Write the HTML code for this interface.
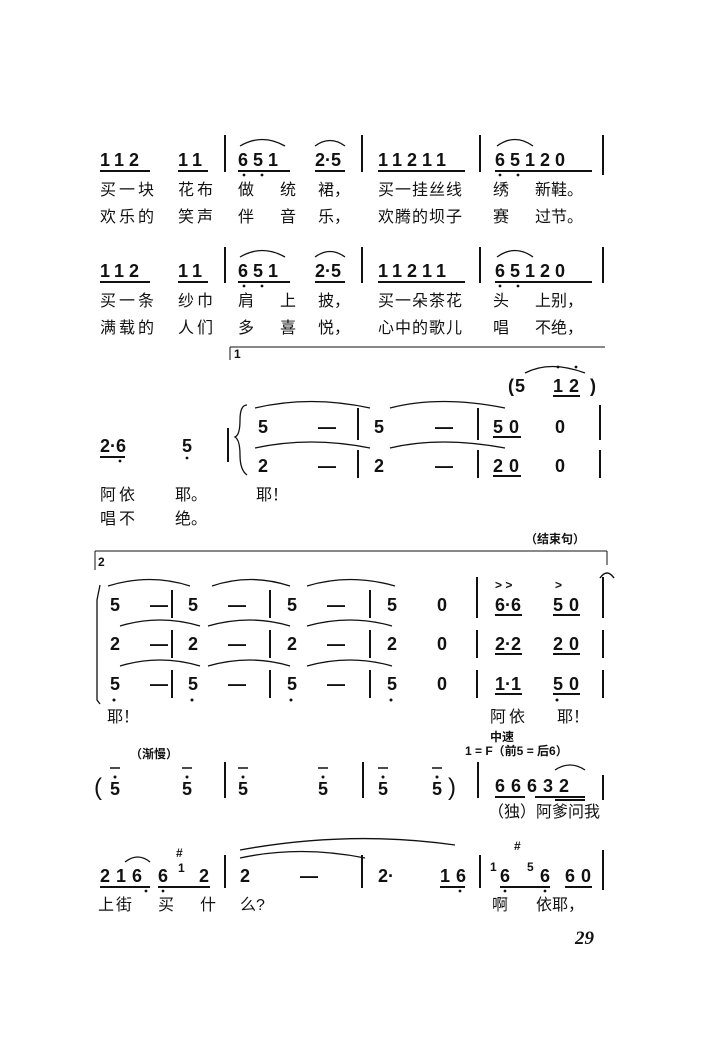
<!DOCTYPE html>
<html><head><meta charset="utf-8"><style>
html,body{margin:0;padding:0;background:#fff;}
svg{display:block}
.n{font-family:"Liberation Sans",sans-serif;font-weight:bold;font-size:18px;fill:#111}
.c{font-family:"Liberation Sans","Noto Sans CJK SC",sans-serif;font-size:16px;fill:#111}
.s{font-family:"Liberation Sans","Noto Sans CJK SC",sans-serif;font-size:12px;font-weight:bold;fill:#111}
line,path{stroke:#111;fill:none}
circle{fill:#111}
</style></head><body>
<svg width="701" height="1051" viewBox="0 0 701 1051">
<!-- Block 1 -->
<g class="n">
<text x="100" y="166" letter-spacing="5">112</text><text x="178" y="166" letter-spacing="5">11</text>
<text x="238" y="166" letter-spacing="5">651</text><text x="315" y="166">2·5</text>
<text x="378" y="166" letter-spacing="5">11211</text><text x="495" y="166" letter-spacing="5">65120</text>
<text x="100" y="277" letter-spacing="5">112</text><text x="178" y="277" letter-spacing="5">11</text>
<text x="238" y="277" letter-spacing="5">651</text><text x="315" y="277">2·5</text>
<text x="378" y="277" letter-spacing="5">11211</text><text x="495" y="277" letter-spacing="5">65120</text>
</g>
<circle cx="244" cy="175" r="1.4"/><circle cx="262" cy="175" r="1.4"/><circle cx="500" cy="175" r="1.4"/><circle cx="518" cy="175" r="1.4"/>
<circle cx="244" cy="286" r="1.4"/><circle cx="262" cy="286" r="1.4"/><circle cx="500" cy="286" r="1.4"/><circle cx="518" cy="286" r="1.4"/>
<g stroke-width="2">
<line x1="100" y1="171" x2="150" y2="171"/><line x1="178" y1="171" x2="208" y2="171"/>
<line x1="238" y1="171" x2="290" y2="171"/><line x1="315" y1="171" x2="345" y2="171"/>
<line x1="378" y1="171" x2="465" y2="171"/><line x1="495" y1="171" x2="592" y2="171"/>
<line x1="100" y1="282" x2="150" y2="282"/><line x1="178" y1="282" x2="208" y2="282"/>
<line x1="238" y1="282" x2="290" y2="282"/><line x1="315" y1="282" x2="345" y2="282"/>
<line x1="378" y1="282" x2="465" y2="282"/><line x1="495" y1="282" x2="592" y2="282"/>
<line x1="225" y1="135" x2="225" y2="172"/><line x1="362" y1="135" x2="362" y2="172"/>
<line x1="480" y1="135" x2="480" y2="172"/><line x1="603" y1="135" x2="603" y2="175"/>
<line x1="225" y1="247" x2="225" y2="283"/><line x1="362" y1="247" x2="362" y2="283"/>
<line x1="480" y1="247" x2="480" y2="283"/><line x1="603" y1="247" x2="603" y2="283"/>
</g>
<g stroke-width="1.3">
<path d="M240 146 Q262 133 285 146"/><path d="M315 146 Q330 135 345 146"/><path d="M497 146 Q515 133 533 146"/>
<path d="M240 257 Q262 244 285 257"/><path d="M315 257 Q330 246 345 257"/><path d="M497 257 Q515 244 533 257"/>
</g>
<g class="c">
<text x="100" y="195" letter-spacing="3">买一块</text><text x="178" y="195" letter-spacing="3">花布</text>
<text x="238" y="195">做</text><text x="280" y="195">统</text><text x="318" y="195">裙，</text>
<text x="378" y="195" letter-spacing="1">买一挂丝线</text><text x="493" y="195">绣</text><text x="535" y="195">新鞋。</text>
<text x="100" y="222" letter-spacing="3">欢乐的</text><text x="178" y="222" letter-spacing="3">笑声</text>
<text x="238" y="222">伴</text><text x="280" y="222">音</text><text x="318" y="222">乐，</text>
<text x="378" y="222" letter-spacing="1">欢腾的坝子</text><text x="493" y="222">赛</text><text x="535" y="222">过节。</text>
<text x="100" y="306" letter-spacing="3">买一条</text><text x="178" y="306" letter-spacing="3">纱巾</text>
<text x="238" y="306">肩</text><text x="280" y="306">上</text><text x="318" y="306">披，</text>
<text x="378" y="306" letter-spacing="1">买一朵茶花</text><text x="493" y="306">头</text><text x="535" y="306">上别，</text>
<text x="100" y="333" letter-spacing="3">满载的</text><text x="178" y="333" letter-spacing="3">人们</text>
<text x="238" y="333">多</text><text x="280" y="333">喜</text><text x="318" y="333">悦，</text>
<text x="378" y="333" letter-spacing="1">心中的歌儿</text><text x="493" y="333">唱</text><text x="535" y="333">不绝，</text>
</g>
<!-- Volta 1 -->
<line x1="230" y1="347" x2="605" y2="347" stroke-width="1"/><line x1="230" y1="347" x2="230" y2="360"/>
<text x="234" y="358" class="s">1</text>
<g class="n">
<text x="508" y="392">(</text><text x="515" y="392">5</text><text x="553" y="392" letter-spacing="6">12</text><text x="590" y="392">)</text>
<text x="258" y="433">5</text><text x="318" y="433">—</text><text x="374" y="433">5</text><text x="435" y="433">—</text>
<text x="493" y="433" letter-spacing="6">50</text><text x="555" y="433">0</text>
<text x="258" y="472">2</text><text x="318" y="472">—</text><text x="374" y="472">2</text><text x="435" y="472">—</text>
<text x="493" y="472" letter-spacing="6">20</text><text x="555" y="472">0</text>
<text x="100" y="452">2·6</text><text x="182" y="452">5</text>
</g>
<circle cx="558" cy="367" r="1.4"/><circle cx="576" cy="367" r="1.4"/><circle cx="120" cy="461" r="1.4"/><circle cx="187" cy="458" r="1.4"/>
<g stroke-width="2">
<line x1="493" y1="437" x2="521" y2="437"/><line x1="493" y1="476" x2="521" y2="476"/>
<line x1="100" y1="457" x2="125" y2="457"/><line x1="553" y1="396" x2="580" y2="396"/>
<line x1="358" y1="408" x2="358" y2="440"/><line x1="478" y1="408" x2="478" y2="440"/><line x1="600" y1="405" x2="600" y2="440"/>
<line x1="358" y1="450" x2="358" y2="478"/><line x1="478" y1="450" x2="478" y2="478"/><line x1="600" y1="450" x2="600" y2="478"/>
<line x1="228" y1="428" x2="228" y2="462"/>
</g>
<g stroke-width="1.3">
<path d="M525 373 Q550 360 585 373"/>
<path d="M255 408 Q310 395 370 408"/><path d="M390 408 Q440 395 505 408"/>
<path d="M255 448 Q310 436 370 448"/><path d="M390 448 Q440 436 505 448"/>
<path d="M247 405 Q240 405 240 420 Q240 435 235 437 Q240 440 240 455 Q240 470 247 475"/>
</g>
<g class="c">
<text x="100" y="500" letter-spacing="3">阿依</text><text x="175" y="500">耶。</text><text x="256" y="500">耶！</text>
<text x="100" y="524" letter-spacing="3">唱不</text><text x="175" y="524">绝。</text>
</g>
<!-- Volta 2 -->
<text x="525" y="543" class="s">（结束句）</text>
<line x1="95" y1="551" x2="607" y2="551"/><line x1="95" y1="551" x2="95" y2="570"/><line x1="607" y1="551" x2="607" y2="565"/>
<text x="98" y="566" class="s">2</text>
<path d="M600 578 Q607 568 614 578" stroke-width="1.5"/>
<g class="n">
<text x="110" y="611">5</text><text x="150" y="611">—</text><text x="188" y="611">5</text><text x="228" y="611">—</text>
<text x="287" y="611">5</text><text x="327" y="611">—</text><text x="387" y="611">5</text><text x="437" y="611">0</text>
<text x="495" y="611">6·6</text><text x="553" y="611" letter-spacing="6">50</text>
<text x="110" y="650">2</text><text x="150" y="650">—</text><text x="188" y="650">2</text><text x="228" y="650">—</text>
<text x="287" y="650">2</text><text x="327" y="650">—</text><text x="387" y="650">2</text><text x="437" y="650">0</text>
<text x="495" y="650">2·2</text><text x="553" y="650" letter-spacing="6">20</text>
<text x="110" y="690">5</text><text x="150" y="690">—</text><text x="188" y="690">5</text><text x="228" y="690">—</text>
<text x="287" y="690">5</text><text x="327" y="690">—</text><text x="387" y="690">5</text><text x="437" y="690">0</text>
<text x="495" y="690">1·1</text><text x="553" y="690" letter-spacing="6">50</text>
</g>
<text x="495" y="589" class="s">&gt; &gt;</text><text x="555" y="589" class="s">&gt;</text>
<g stroke-width="2">
<line x1="495" y1="615" x2="522" y2="615"/><line x1="553" y1="615" x2="580" y2="615"/>
<line x1="495" y1="654" x2="522" y2="654"/><line x1="553" y1="654" x2="580" y2="654"/>
<line x1="495" y1="694" x2="522" y2="694"/><line x1="553" y1="694" x2="580" y2="694"/>
<line x1="172" y1="590" x2="172" y2="618"/><line x1="270" y1="590" x2="270" y2="618"/><line x1="370" y1="590" x2="370" y2="618"/><line x1="477" y1="577" x2="477" y2="618"/><line x1="603" y1="577" x2="603" y2="618"/>
<line x1="172" y1="630" x2="172" y2="658"/><line x1="270" y1="630" x2="270" y2="658"/><line x1="370" y1="630" x2="370" y2="658"/><line x1="477" y1="630" x2="477" y2="658"/><line x1="603" y1="630" x2="603" y2="658"/>
<line x1="172" y1="670" x2="172" y2="698"/><line x1="270" y1="670" x2="270" y2="698"/><line x1="370" y1="670" x2="370" y2="698"/><line x1="477" y1="670" x2="477" y2="698"/><line x1="603" y1="670" x2="603" y2="698"/>
</g>
<circle cx="114" cy="700" r="1.5"/><circle cx="192" cy="700" r="1.5"/><circle cx="291" cy="700" r="1.5"/><circle cx="391" cy="700" r="1.5"/><circle cx="557" cy="700" r="1.5"/>
<g stroke-width="1.3">
<path d="M108 586 Q150 573 190 586"/><path d="M212 586 Q250 573 290 586"/><path d="M307 586 Q350 573 395 586"/>
<path d="M120 626 Q160 614 200 626"/><path d="M208 626 Q250 614 290 626"/><path d="M307 626 Q350 614 392 626"/>
<path d="M120 666 Q160 654 200 666"/><path d="M208 666 Q250 654 290 666"/><path d="M307 666 Q350 654 392 666"/>
<path d="M100 585 L97 600 L97 700 L100 704"/>
</g>
<g class="c">
<text x="107" y="722">耶！</text><text x="490" y="722" letter-spacing="3">阿依</text><text x="557" y="722">耶！</text>
</g>
<!-- Tempo line -->
<text x="130" y="758" class="s">（渐慢）</text>
<text x="490" y="741" class="s">中速</text>
<text x="465" y="755" class="s">1 = F（前5 = 后6）</text>
<g class="n">
<text x="94" y="795" font-size="24" font-weight="normal">(</text>
<text x="110" y="795">5</text><text x="182" y="795">5</text><text x="238" y="795">5</text><text x="318" y="795">5</text>
<text x="378" y="795">5</text><text x="432" y="795">5</text><text x="448" y="795" font-size="24" font-weight="normal">)</text>
<text x="495" y="792" letter-spacing="6">66632</text>
</g>
<circle cx="115" cy="777" r="1.5"/><circle cx="187" cy="777" r="1.5"/><circle cx="243" cy="777" r="1.5"/><circle cx="323" cy="777" r="1.5"/><circle cx="383" cy="777" r="1.5"/><circle cx="437" cy="777" r="1.5"/>
<g stroke-width="1.5">
<line x1="110" y1="768" x2="120" y2="768"/><line x1="182" y1="768" x2="192" y2="768"/><line x1="238" y1="768" x2="248" y2="768"/><line x1="318" y1="768" x2="328" y2="768"/><line x1="378" y1="768" x2="388" y2="768"/><line x1="432" y1="768" x2="442" y2="768"/>
</g>
<g stroke-width="2">
<line x1="225" y1="762" x2="225" y2="798"/><line x1="363" y1="762" x2="363" y2="798"/><line x1="478" y1="762" x2="478" y2="798"/><line x1="603" y1="775" x2="603" y2="800"/>
<line x1="495" y1="797" x2="525" y2="797"/><line x1="535" y1="797" x2="585" y2="797"/><line x1="555" y1="800" x2="585" y2="800"/>
</g>
<path d="M555 770 Q570 760 585 770" stroke-width="1.3"/>
<text x="488" y="817" class="c">（独）阿爹问我</text>
<!-- Last row -->
<g class="n">
<text x="100" y="882" letter-spacing="6">216</text><text x="158" y="882">6</text><text x="199" y="882">2</text>
<text x="240" y="882">2</text><text x="300" y="882">—</text><text x="378" y="882">2·</text><text x="440" y="882" letter-spacing="6">16</text>
<text x="500" y="882">6</text><text x="540" y="882">6</text><text x="565" y="882" letter-spacing="6">60</text>
</g>
<circle cx="146" cy="891" r="1.4"/><circle cx="163" cy="891" r="1.4"/><circle cx="460" cy="891" r="1.4"/><circle cx="505" cy="891" r="1.4"/><circle cx="545" cy="891" r="1.4"/>
<text x="178" y="872" class="s" font-size="10">1</text><text x="176" y="857" class="s">#</text>
<text x="490" y="871" class="s" font-size="10">1</text><text x="527" y="871" class="s" font-size="10">5</text><text x="514" y="850" class="s">#</text>
<g stroke-width="2">
<line x1="100" y1="887" x2="150" y2="887"/><line x1="158" y1="887" x2="210" y2="887"/><line x1="440" y1="887" x2="465" y2="887"/>
<line x1="500" y1="887" x2="550" y2="887"/><line x1="565" y1="887" x2="592" y2="887"/>
<line x1="225" y1="855" x2="225" y2="888"/><line x1="362" y1="855" x2="362" y2="888"/><line x1="480" y1="855" x2="480" y2="888"/><line x1="603" y1="850" x2="603" y2="890"/>
</g>
<g stroke-width="1.3">
<path d="M125 862 Q138 852 150 862"/><path d="M240 850 Q350 830 455 845"/><path d="M240 858 Q300 845 365 858"/>
</g>
<g class="c">
<text x="98" y="910" letter-spacing="2">上街</text><text x="158" y="910">买</text><text x="200" y="910">什</text><text x="240" y="910">么?</text>
<text x="492" y="910">啊</text><text x="536" y="910">依耶，</text>
</g>
<text x="575" y="944" font-family="Liberation Serif,serif" font-weight="bold" font-style="italic" font-size="19" fill="#111">29</text>
</svg>
</body></html>
